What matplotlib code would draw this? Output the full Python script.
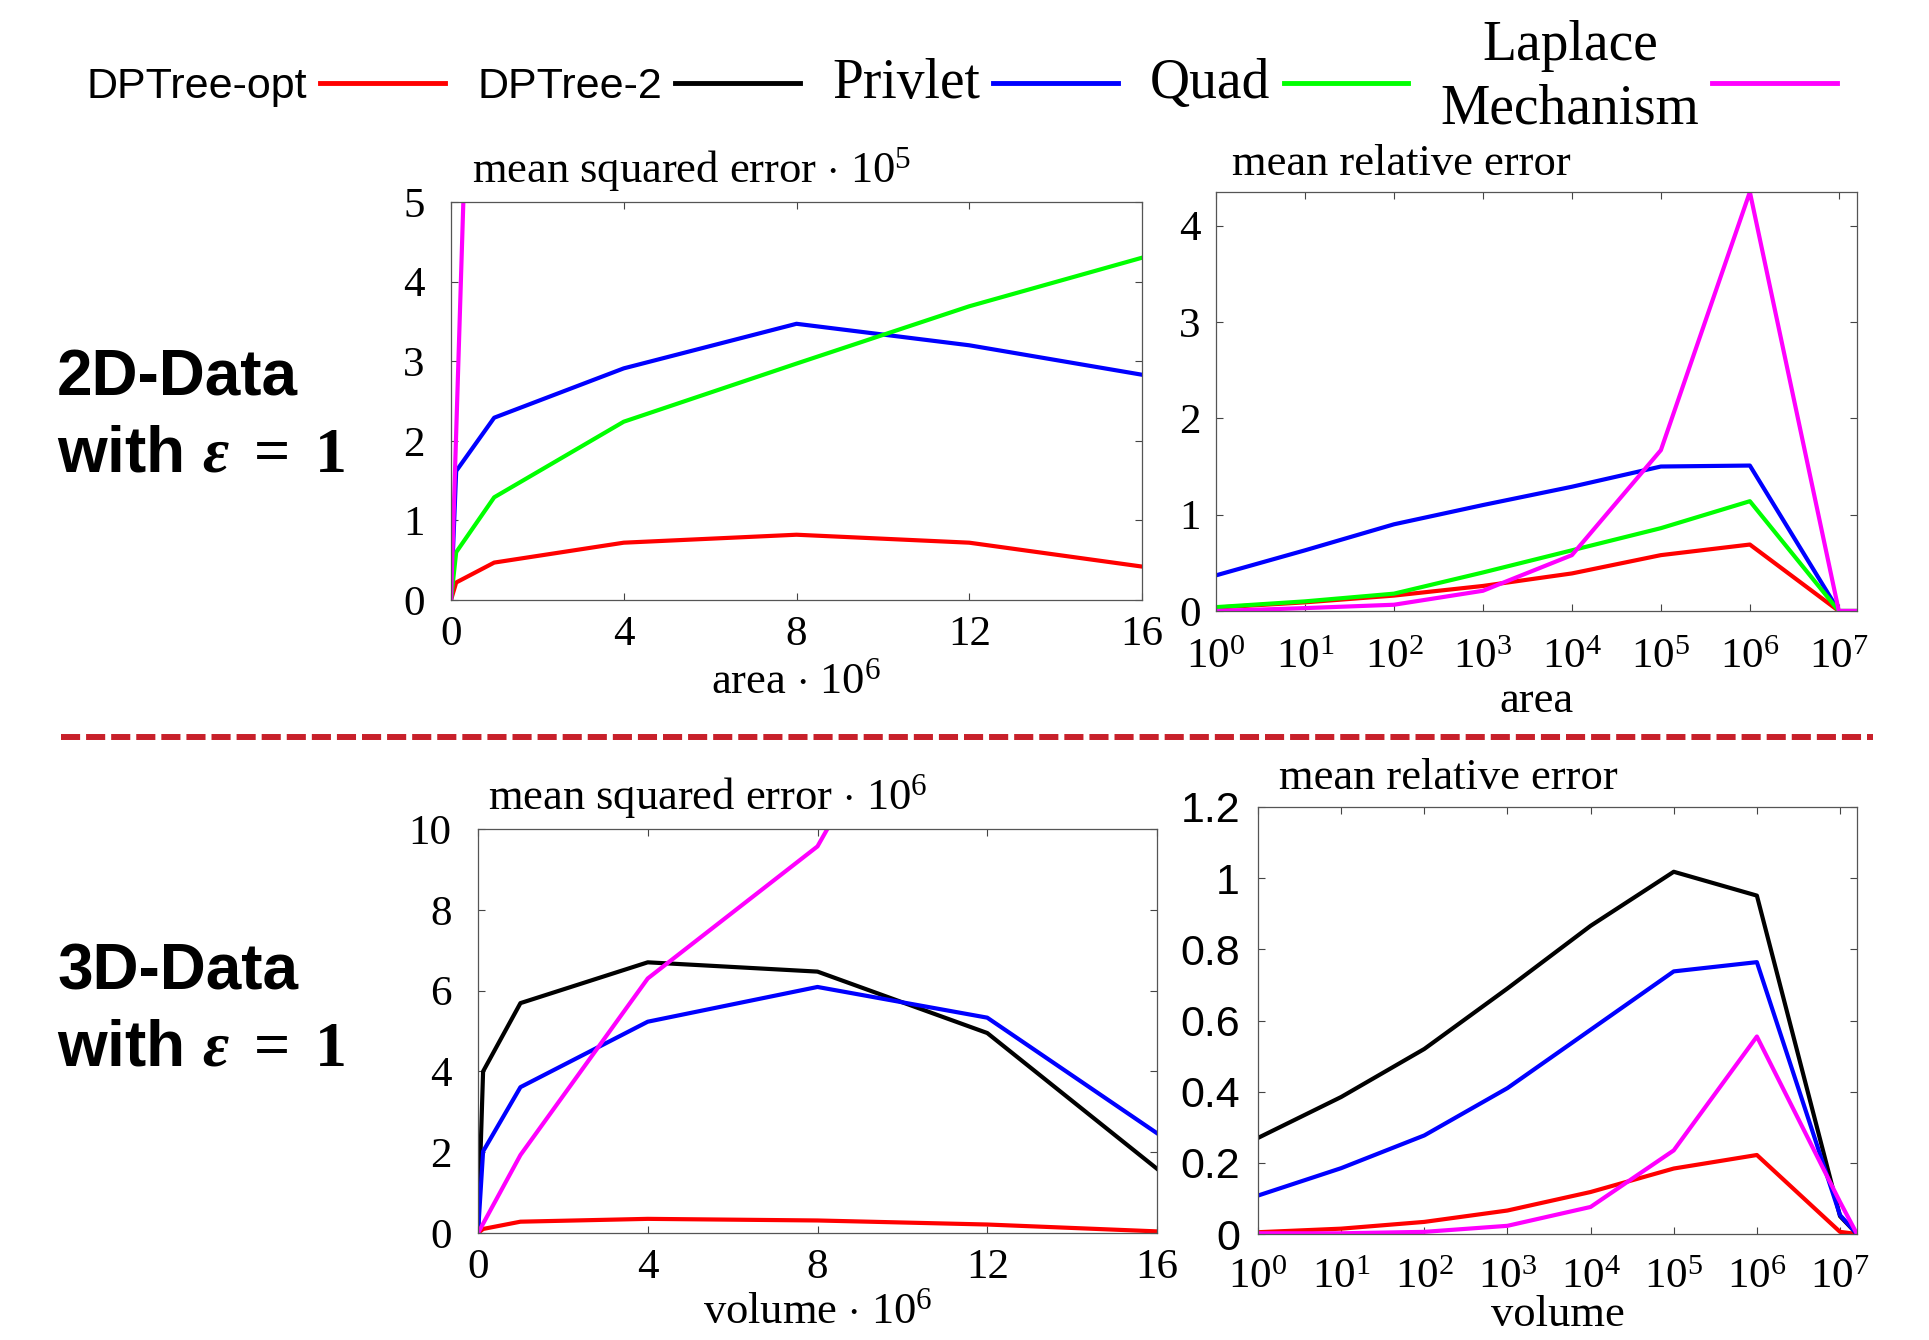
import numpy as np
import matplotlib
matplotlib.use('Agg')
import matplotlib.pyplot as plt
from matplotlib.lines import Line2D
from matplotlib.ticker import NullLocator

plt.rcParams['font.family'] = 'Liberation Serif'
plt.rcParams['mathtext.fontset'] = 'custom'
plt.rcParams['mathtext.rm'] = 'Liberation Serif'
plt.rcParams['mathtext.it'] = 'Liberation Serif:italic'
plt.rcParams['mathtext.bf'] = 'Liberation Serif:bold'
plt.rcParams['mathtext.bfit'] = 'Liberation Serif:italic:bold'

# Donnees 2D (erreur quadratique moyenne, aire lineaire)
x_area = [0, 0.12, 1, 4, 8, 12, 16]
mse2d_opt = [0, 0.22, 0.47, 0.72, 0.82, 0.72, 0.42]
mse2d_privlet = [0, 1.62, 2.29, 2.91, 3.47, 3.20, 2.83]
mse2d_quad = [0, 0.60, 1.29, 2.24, 2.97, 3.69, 4.30]
mse2d_laplace = [0, 2.1, 17.5, 41.0, 66.0, 88.0, 110.0]

# Donnees 2D (erreur relative moyenne, aire log)
x_area_log = [1e0, 1e1, 1e2, 1e3, 1e4, 1e5, 1e6, 1e7, 1.6e7]
mre2d_opt = [0.035, 0.09, 0.16, 0.26, 0.39, 0.58, 0.69, 0, 0]
mre2d_privlet = [0.37, 0.63, 0.90, 1.10, 1.29, 1.50, 1.51, 0, 0]
mre2d_quad = [0.04, 0.10, 0.18, 0.40, 0.63, 0.86, 1.14, 0, 0]
mre2d_laplace = [0, 0.03, 0.065, 0.21, 0.58, 1.67, 4.35, 0, 0]

# Donnees 3D (erreur quadratique moyenne, volume lineaire)
x_vol = [0, 0.12, 1, 4, 8, 12, 16]
mse3d_opt = [0, 0.10, 0.28, 0.35, 0.31, 0.21, 0.04]
mse3d_tree2 = [0, 4.0, 5.69, 6.70, 6.47, 4.95, 1.59]
mse3d_privlet = [0, 2.02, 3.61, 5.23, 6.09, 5.33, 2.47]
mse3d_laplace = [0, 0.23, 1.93, 6.30, 9.57, 17.0, 24.0]

# Donnees 3D (erreur relative moyenne, volume log)
x_vol_log = [1e0, 1e1, 1e2, 1e3, 1e4, 1e5, 1e6, 1e7, 1.6e7]
mre3d_opt = [0.005, 0.015, 0.034, 0.066, 0.118, 0.184, 0.222, 0.006, 0]
mre3d_tree2 = [0.27, 0.385, 0.52, 0.69, 0.866, 1.018, 0.951, 0.05, 0]
mre3d_privlet = [0.108, 0.185, 0.277, 0.41, 0.574, 0.738, 0.764, 0.053, 0]
mre3d_laplace = [0.002, 0.002, 0.006, 0.023, 0.076, 0.235, 0.555, 0.09, 0]

labels = ['DPTree-opt', 'DPTree-2', 'Privlet', 'Quad', 'Laplace\nMechanism']
colors = ['#ff0000', '#000000', '#0000ff', '#00ff00', '#ff00ff']

W, H = 1929, 1340
fig = plt.figure(figsize=(W / 100, H / 100), dpi=100)


def rect(l, t, r, b):
    return [l / W, 1 - b / H, (r - l) / W, (b - t) / H]


def style(ax, pad_y, pad_x):
    ax.tick_params(direction='in', top=True, right=True, length=5, width=0.8,
                   labelsize=31, color='#444444')
    ax.tick_params(axis='y', pad=pad_y)
    ax.tick_params(axis='x', pad=pad_x)
    for s in ax.spines.values():
        s.set_color('#555555')
        s.set_linewidth(0.9)


lw = 3
tsize = 32

# Haut gauche
ax1 = fig.add_axes(rect(451, 202, 1142, 600))
ax1.plot(x_area, mse2d_opt, color=colors[0], lw=lw)
ax1.plot(x_area, mse2d_privlet, color=colors[2], lw=lw)
ax1.plot(x_area, mse2d_quad, color=colors[3], lw=lw)
ax1.plot(x_area, mse2d_laplace, color=colors[4], lw=lw)
ax1.set_xlim(0, 16)
ax1.set_ylim(0, 5)
ax1.set_xticks([0, 4, 8, 12, 16])
ax1.set_yticks([0, 1, 2, 3, 4, 5])
style(ax1, 19, 11)
ax1.text(0.03, 1.02, r'mean squared error $\cdot$ 10$^5$', transform=ax1.transAxes,
         fontsize=tsize, ha='left', va='bottom')
ax1.set_xlabel(r'area $\cdot$ 10$^6$', fontsize=tsize, labelpad=6)

# Haut droite
ax2 = fig.add_axes(rect(1216, 192, 1857, 611))
ax2.plot(x_area_log, mre2d_opt, color=colors[0], lw=lw)
ax2.plot(x_area_log, mre2d_privlet, color=colors[2], lw=lw)
ax2.plot(x_area_log, mre2d_quad, color=colors[3], lw=lw)
ax2.plot(x_area_log, mre2d_laplace, color=colors[4], lw=lw)
ax2.set_xscale('log')
ax2.set_xlim(1, 1.6e7)
ax2.set_ylim(0, 4.35)
ax2.set_xticks([10.0 ** k for k in range(8)])
ax2.xaxis.set_minor_locator(NullLocator())
ax2.set_yticks([0, 1, 2, 3, 4])
style(ax2, 11, 20)
ax2.text(0.025, 1.02, 'mean relative error', transform=ax2.transAxes,
         fontsize=tsize, ha='left', va='bottom')
ax2.set_xlabel('area', fontsize=tsize, labelpad=3)

# Bas gauche
ax3 = fig.add_axes(rect(478, 829, 1157, 1233))
ax3.plot(x_vol, mse3d_opt, color=colors[0], lw=lw)
ax3.plot(x_vol, mse3d_tree2, color=colors[1], lw=lw)
ax3.plot(x_vol, mse3d_privlet, color=colors[2], lw=lw)
ax3.plot(x_vol, mse3d_laplace, color=colors[4], lw=lw)
ax3.set_xlim(0, 16)
ax3.set_ylim(0, 10)
ax3.set_xticks([0, 4, 8, 12, 16])
ax3.set_yticks([0, 2, 4, 6, 8, 10])
style(ax3, 19, 11)
ax3.text(0.015, 1.02, r'mean squared error $\cdot$ 10$^6$', transform=ax3.transAxes,
         fontsize=tsize, ha='left', va='bottom')
ax3.set_xlabel(r'volume $\cdot$ 10$^6$', fontsize=tsize, labelpad=4)

# Bas droite
ax4 = fig.add_axes(rect(1258, 807, 1857, 1234))
ax4.plot(x_vol_log, mre3d_opt, color=colors[0], lw=lw)
ax4.plot(x_vol_log, mre3d_tree2, color=colors[1], lw=lw)
ax4.plot(x_vol_log, mre3d_privlet, color=colors[2], lw=lw)
ax4.plot(x_vol_log, mre3d_laplace, color=colors[4], lw=lw)
ax4.set_xscale('log')
ax4.set_xlim(1, 1.6e7)
ax4.set_ylim(0, 1.2)
ax4.set_xticks([10.0 ** k for k in range(8)])
ax4.xaxis.set_minor_locator(NullLocator())
yt = [0, 0.2, 0.4, 0.6, 0.8, 1.0, 1.2]
ax4.set_yticks(yt, labels=['%g' % v for v in yt], fontfamily='Liberation Sans')
style(ax4, 13, 18)
ax4.text(0.035, 1.02, 'mean relative error', transform=ax4.transAxes,
         fontsize=tsize, ha='left', va='bottom')
ax4.set_xlabel('volume', fontsize=tsize, labelpad=-2)

# Legende
handles = [Line2D([], [], color=c, lw=3.5) for c in colors]
leg = fig.legend(handles, labels, loc='center', bbox_to_anchor=(962 / W, 1 - 78 / H),
                 ncol=5, frameon=False, markerfirst=False, handlelength=2.9,
                 handletextpad=0.3, columnspacing=0.75,
                 prop={'family': 'Liberation Sans', 'size': 31})
for i, t in enumerate(leg.get_texts()):
    if i >= 2:
        t.set_fontfamily('Liberation Serif')
        t.set_fontsize(40)
    t.set_multialignment('center')
    t.set_linespacing(1.3)

# Separateur
fig.add_artist(Line2D([61 / W, 1873 / W], [1 - 737 / H, 1 - 737 / H], color='#c8202a',
                      lw=4.3, linestyle=(0, (3.2, 1.0))))

# Libelles des lignes
for yb, name in [(395, '2D-Data'), (989, '3D-Data')]:
    fig.text(57 / W, 1 - yb / H, name, fontsize=46, fontweight='bold',
             family='Liberation Sans', va='baseline', ha='left')
    fig.text(57 / W, 1 - (yb + 77) / H, r'with $\mathbfit{\varepsilon}\ \mathbf{=\ 1}$',
             fontsize=46, fontweight='bold', family='Liberation Sans',
             va='baseline', ha='left')

fig.savefig('out.png', dpi=100)
